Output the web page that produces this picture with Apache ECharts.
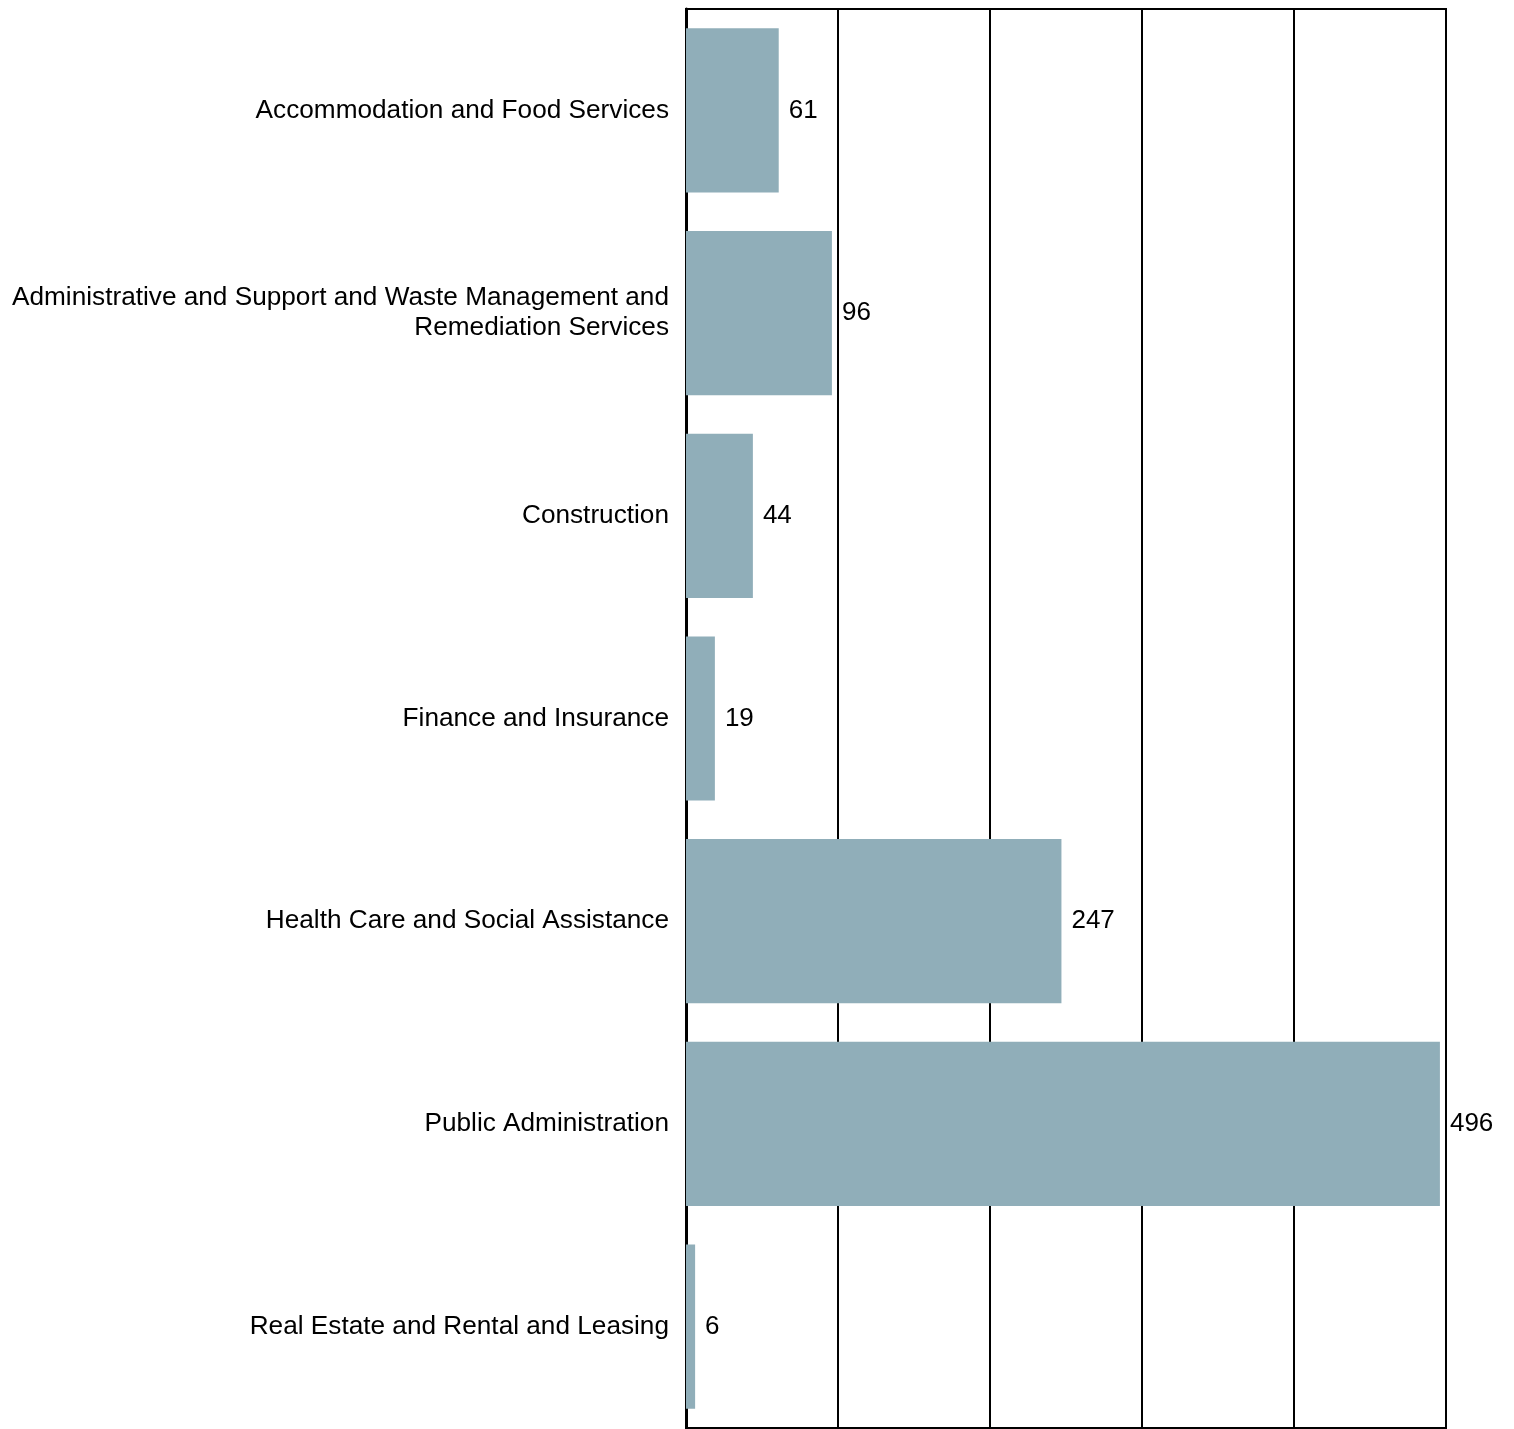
<!DOCTYPE html>
<html><head><meta charset="utf-8">
<script src="https://cdn.jsdelivr.net/npm/echarts@6/dist/echarts.min.js"></script>
<style>html,body{margin:0;padding:0;background:#fff}#c{width:1514px;height:1429px}</style>
</head><body><div id="c"></div>
<script>
const categories = [
  "Accommodation and Food Services",
  "Administrative and Support and Waste Management and\nRemediation Services",
  "Construction",
  "Finance and Insurance",
  "Health Care and Social Assistance",
  "Public Administration",
  "Real Estate and Rental and Leasing"
];
const values = [61, 96, 44, 19, 247, 496, 6];
const xTicks = [0, 100, 200, 300, 400, 500];

const chart = echarts.init(document.getElementById('c'));
chart.setOption({
  animation: false,
  grid: { left: 686, right: 68, top: 9, bottom: 1, show: true, borderColor: '#000', borderWidth: 2, backgroundColor: 'transparent' },
  xAxis: {
    type: 'value', min: xTicks[0], max: xTicks[xTicks.length-1], interval: 100,
    axisLabel: { show: false }, axisTick: { show: false }, axisLine: { show: false },
    splitLine: { show: true, lineStyle: { color: '#000', width: 2 } }
  },
  yAxis: {
    type: 'category', data: categories, inverse: true,
    axisLine: { show: true, lineStyle: { color: '#000', width: 3 } },
    axisTick: { show: false },
    axisLabel: { color: '#000', fontSize: 26.2, fontFamily: 'Liberation Sans, Arial, sans-serif', margin: 17, lineHeight: 30, align: 'right', padding: [4, 0, 0, 0] }
  },
  series: [{
    type: 'bar', data: values, barCategoryGap: '19%',
    itemStyle: { color: '#90aeb9' },
    label: { show: true, position: 'right', distance: 10, color: '#000', fontSize: 26, fontFamily: 'Liberation Sans, Arial, sans-serif', padding: [4, 0, 0, 0] }
  }]
});
</script></body></html>
